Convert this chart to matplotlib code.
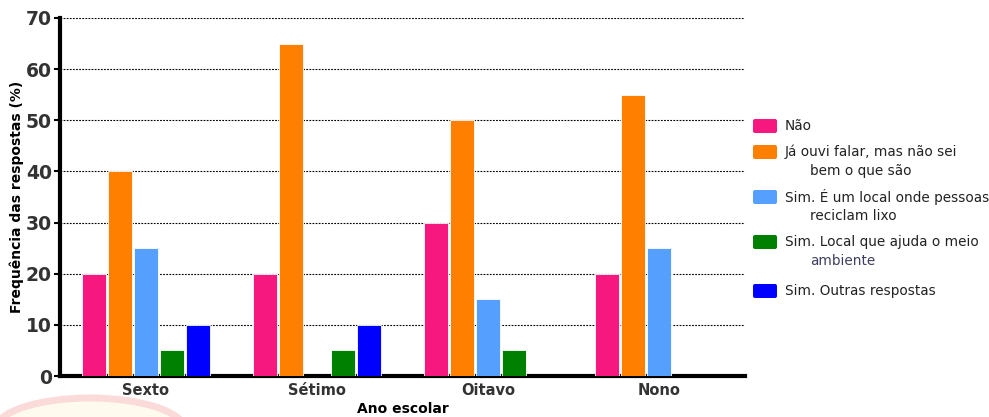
import numpy as np
import matplotlib
matplotlib.use("Agg")
import matplotlib.pyplot as plt
from matplotlib.patches import Ellipse, FancyBboxPatch

plt.rcParams['font.family'] = ['DejaVu Sans']

# Data
categories = ["Sexto", "Sétimo", "Oitavo", "Nono"]
series_labels = [
    ("Não", ""),
    ("Já ouvi falar, mas não sei", "bem o que são"),
    ("Sim. É um local onde pessoas", "reciclam lixo"),
    ("Sim. Local que ajuda o meio", "ambiente"),
    ("Sim. Outras respostas", ""),
]
nao = [20, 20, 30, 20]
ja_ouvi = [40, 65, 50, 55]
sim_reciclam = [25, 0, 15, 25]
sim_meio_ambiente = [5, 5, 5, 0]
sim_outras = [10, 10, 0, 0]
series_values = [nao, ja_ouvi, sim_reciclam, sim_meio_ambiente, sim_outras]
colors = ["#F7187F", "#FF8000", "#559FFF", "#008000", "#0000FF"]
y_ticks = [0, 10, 20, 30, 40, 50, 60, 70]

W, H = 989, 417
fig = plt.figure(figsize=(W / 100, H / 100), dpi=100)
ax = fig.add_axes([0.0607, 0.0983, 0.6926, 0.8587])


def fx(px):
    return px / W


def fy(py):
    return 1 - py / H


# faint decorative arc at the lower left
arc = Ellipse((fx(90), fy(430)), 190 / W, 64 / H,
              transform=fig.transFigure, facecolor="#fefbee",
              edgecolor="#fbdada", linewidth=5, zorder=-10)
fig.patches.append(arc)

x = np.arange(len(categories))
step = 26 / 171
width = 24 / 171
n = len(series_values)
for i, (vals, col) in enumerate(zip(series_values, colors)):
    offs = (i - (n - 1) / 2) * step
    ax.bar(x + offs, vals, width=width, color=col,
           edgecolor="white", linewidth=0.6, zorder=3)

ax.set_xlim(-0.5, 3.5)
ax.set_ylim(0, 70)
ax.set_yticks(y_ticks)
ax.set_yticklabels([str(t) for t in y_ticks], fontsize=13.5, fontweight="bold",
                   color="#333333")
ax.set_xticks(x)
ax.set_xticklabels(categories, fontsize=10.5, fontweight="bold", color="#333333")
ax.tick_params(axis="x", length=0, pad=5)
ax.tick_params(axis="y", length=4, width=1.5, pad=2)

ax.yaxis.grid(True, linestyle=(0, (1.6, 1.2)), color="black", linewidth=0.8, zorder=0)
ax.set_axisbelow(True)
for s in ["top", "right"]:
    ax.spines[s].set_visible(False)
ax.spines["left"].set_linewidth(3)
ax.spines["bottom"].set_linewidth(3)

ax.set_ylabel("Frequência das respostas (%)", fontsize=10, fontweight="bold",
              labelpad=1)
ax.set_xlabel("Ano escolar", fontsize=10, fontweight="bold", labelpad=3)

# legend: swatch + one or two text lines per series
entry_y = [126, 152, 197, 242, 291]
second_gap = 19
swatch_x, swatch_w, swatch_h = 753, 24, 14
text_x, indent_x = 785, 810
second_colors = ["#222222", "#222222", "#222222", "#3e3e60", "#222222"]
for (line1, line2), col, yc, c2 in zip(series_labels, colors, entry_y, second_colors):
    sw = FancyBboxPatch((fx(swatch_x), fy(yc + swatch_h / 2)), swatch_w / W, swatch_h / H,
                        boxstyle="round,pad=0,rounding_size=0.002",
                        transform=fig.transFigure, facecolor=col,
                        edgecolor="none", mutation_aspect=W / H)
    fig.patches.append(sw)
    fig.text(fx(text_x), fy(yc), line1, fontsize=9.8, color="#222222",
             ha="left", va="center")
    if line2:
        fig.text(fx(indent_x), fy(yc + second_gap), line2, fontsize=9.8,
                 color=c2, ha="left", va="center")

fig.savefig("out.png", dpi=100)
